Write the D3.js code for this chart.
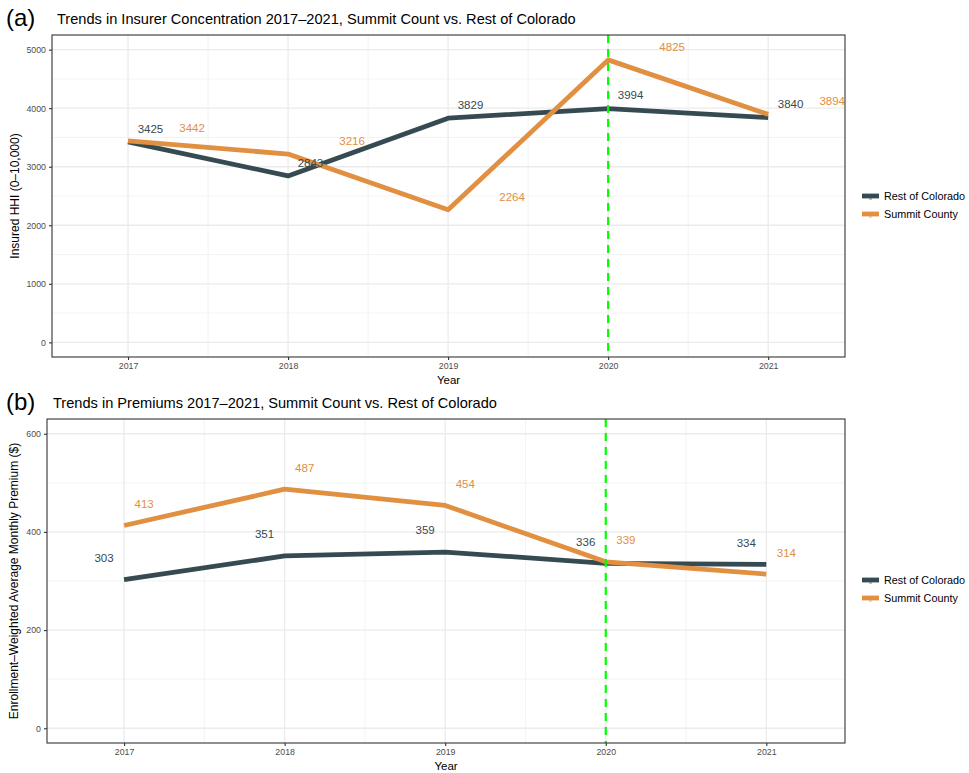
<!DOCTYPE html>
<html>
<head>
<meta charset="utf-8">
<script src="https://cdn.jsdelivr.net/npm/d3@7"></script>
<style>
  html, body { margin: 0; padding: 0; background: #ffffff; }
  svg { display: block; font-family: "Liberation Sans", Arial, sans-serif; }
</style>
</head>
<body>
<svg id="chart" width="969" height="773"></svg>
<script>
// Years shared by both panels
const years = [2017, 2018, 2019, 2020, 2021];
const seriesNames = ["Rest of Colorado", "Summit County"];
const seriesColors = ["#364A51", "#E18F41"];

// Panel (a): insurer HHI
const hhiRest = [3425, 2843, 3829, 3994, 3840];
const hhiSummit = [3442, 3216, 2264, 4825, 3894];
const hhiTicks = [0, 1000, 2000, 3000, 4000, 5000];

// Panel (b): enrollment-weighted average monthly premium
const premRest = [303, 351, 359, 336, 334];
const premSummit = [413, 487, 454, 339, 314];
const premTicks = [0, 200, 400, 600];

const markerYear = 2020;

const svg = d3.select("#chart");

function drawPanel(cfg) {
  const x = d3.scaleLinear().domain(cfg.xDomain).range([cfg.left, cfg.right]);
  const y = d3.scaleLinear().domain(cfg.yDomain).range([cfg.bottom, cfg.top]);
  const g = svg.append("g");

  // background
  g.append("rect").attr("x", cfg.left).attr("y", cfg.top)
    .attr("width", cfg.right - cfg.left).attr("height", cfg.bottom - cfg.top)
    .attr("fill", "#ffffff");

  // minor grid
  const yMinor = cfg.yTicks.slice(0, -1).map((t, i) => (t + cfg.yTicks[i + 1]) / 2);
  const xMinor = years.slice(0, -1).map(v => v + 0.5);
  g.selectAll(".ymin").data(yMinor).join("line")
    .attr("x1", cfg.left).attr("x2", cfg.right)
    .attr("y1", d => y(d)).attr("y2", d => y(d))
    .attr("stroke", "#EBEBEB").attr("stroke-width", 0.6);
  g.selectAll(".xmin").data(xMinor).join("line")
    .attr("y1", cfg.top).attr("y2", cfg.bottom)
    .attr("x1", d => x(d)).attr("x2", d => x(d))
    .attr("stroke", "#EBEBEB").attr("stroke-width", 0.6);
  // major grid
  g.selectAll(".ymaj").data(cfg.yTicks).join("line")
    .attr("x1", cfg.left).attr("x2", cfg.right)
    .attr("y1", d => y(d)).attr("y2", d => y(d))
    .attr("stroke", "#EBEBEB").attr("stroke-width", 1.3);
  g.selectAll(".xmaj").data(years).join("line")
    .attr("y1", cfg.top).attr("y2", cfg.bottom)
    .attr("x1", d => x(d)).attr("x2", d => x(d))
    .attr("stroke", "#EBEBEB").attr("stroke-width", 1.3);

  // lines
  const line = d3.line().x((d, i) => x(years[i])).y(d => y(d));
  cfg.series.forEach((vals, k) => {
    g.append("path").datum(vals).attr("d", line)
      .attr("fill", "none").attr("stroke", seriesColors[k])
      .attr("stroke-width", 4.8).attr("stroke-linejoin", "round");
  });

  // vertical marker
  g.append("line")
    .attr("x1", x(markerYear)).attr("x2", x(markerYear))
    .attr("y1", cfg.top).attr("y2", cfg.bottom)
    .attr("stroke", "#00FF00").attr("stroke-width", 2.2)
    .attr("stroke-dasharray", "8,6");

  // value labels
  cfg.series.forEach((vals, k) => {
    g.selectAll(null).data(vals).join("text")
      .attr("x", (d, i) => x(years[i] + cfg.labelDx[k]))
      .attr("y", d => y(d + cfg.labelDy[k]))
      .attr("dy", "0.35em")
      .attr("text-anchor", "middle")
      .attr("font-size", 11.5)
      .attr("fill", seriesColors[k])
      .text(d => d);
  });

  // border
  g.append("rect").attr("x", cfg.left).attr("y", cfg.top)
    .attr("width", cfg.right - cfg.left).attr("height", cfg.bottom - cfg.top)
    .attr("fill", "none").attr("stroke", "#333333").attr("stroke-width", 1.1);

  // axes
  const xAxis = d3.axisBottom(x).tickValues(years).tickFormat(d3.format("d"))
    .tickSize(3).tickPadding(3);
  const ax = g.append("g").attr("transform", `translate(0,${cfg.bottom})`).call(xAxis);
  const yAxis = d3.axisLeft(y).tickValues(cfg.yTicks).tickFormat(d3.format("d"))
    .tickSize(3).tickPadding(3);
  const ay = g.append("g").attr("transform", `translate(${cfg.left},0)`).call(yAxis);
  [ax, ay].forEach(a => {
    a.select(".domain").remove();
    a.selectAll(".tick line").attr("stroke", "#333333").attr("stroke-width", 1.1);
    a.selectAll(".tick text").attr("fill", "#4D4D4D").attr("font-size", 8.8)
      .attr("font-family", "Liberation Sans, Arial, sans-serif");
  });

  // axis titles
  g.append("text").attr("x", (cfg.left + cfg.right) / 2).attr("y", cfg.bottom + 27)
    .attr("text-anchor", "middle").attr("font-size", 11.5).attr("fill", "#000")
    .text("Year");
  g.append("text")
    .attr("transform", `translate(${cfg.yTitleX},${(cfg.top + cfg.bottom) / 2}) rotate(-90)`)
    .attr("text-anchor", "middle").attr("font-size", 12).attr("fill", "#000")
    .text(cfg.yTitle);

  // title and tag
  g.append("text").attr("x", 6).attr("y", cfg.top - 9)
    .attr("font-size", 24).attr("fill", "#000").text(cfg.tag);
  g.append("text").attr("x", cfg.titleX).attr("y", cfg.top - 11)
    .attr("font-size", 14.6).attr("fill", "#000").text(cfg.title);

  // legend
  const leg = g.append("g");
  seriesNames.forEach((name, k) => {
    const ly = cfg.legendY + k * 18;
    leg.append("line").attr("x1", 862).attr("x2", 879).attr("y1", ly).attr("y2", ly)
      .attr("stroke", seriesColors[k]).attr("stroke-width", 4.8);
    leg.append("text").attr("x", 870.5).attr("y", ly + 4).attr("text-anchor", "middle")
      .attr("font-size", 5).attr("fill", seriesColors[k]).attr("opacity", 0.7).text("a");
    leg.append("text").attr("x", 884).attr("y", ly).attr("dy", "0.35em")
      .attr("font-size", 10.8).attr("fill", "#000").text(name);
  });
}

drawPanel({
  left: 52, right: 845, top: 35, bottom: 357,
  xDomain: [2016.525, 2021.48], yDomain: [-250, 5250],
  yTicks: hhiTicks,
  series: [hhiRest, hhiSummit],
  labelDx: [0.14, 0.4], labelDy: [225, 225],
  yTitle: "Insured HHI (0\u201310,000)", yTitleX: 19,
  tag: "(a)", title: "Trends in Insurer Concentration 2017\u20132021, Summit Count vs. Rest of Colorado",
  titleX: 57, legendY: 196
});

drawPanel({
  left: 47, right: 845, top: 419, bottom: 743,
  xDomain: [2016.52, 2021.49], yDomain: [-30, 630],
  yTicks: premTicks,
  series: [premRest, premSummit],
  labelDx: [-0.125, 0.125], labelDy: [44, 44],
  yTitle: "Enrollment\u2013Weighted Average Monthly Premium ($)", yTitleX: 18,
  tag: "(b)", title: "Trends in Premiums 2017\u20132021, Summit Count vs. Rest of Colorado",
  titleX: 53, legendY: 580
});
</script>
</body>
</html>
